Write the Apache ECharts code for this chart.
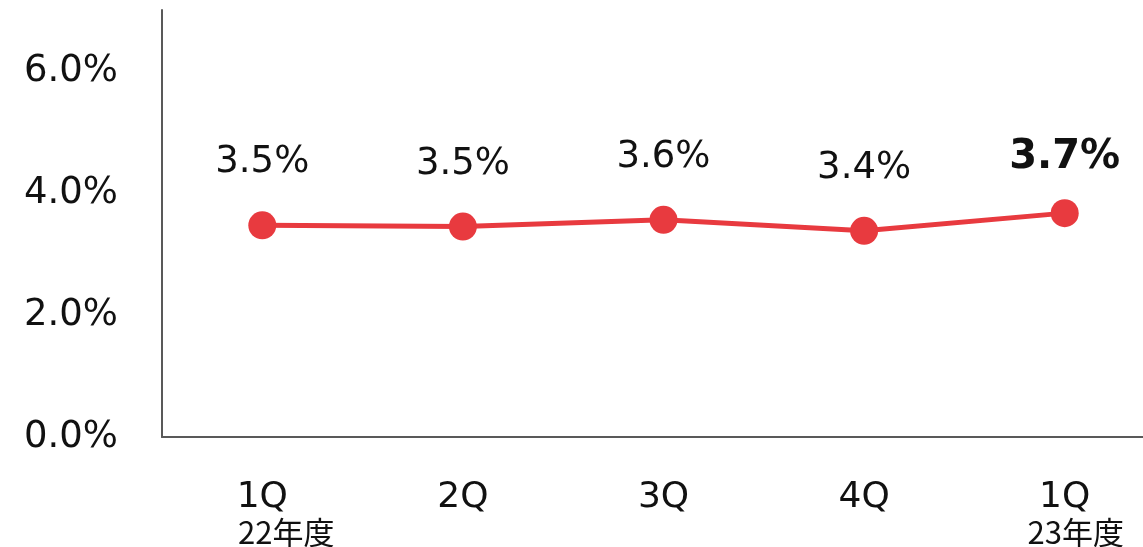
<!DOCTYPE html>
<html>
<head>
<meta charset="utf-8">
<script src="https://cdn.jsdelivr.net/npm/echarts@6/dist/echarts.min.js"></script>
<style>
  html, body { margin: 0; padding: 0; background: #fff; }
  #chart { width: 1143px; height: 547px; }
</style>
</head>
<body>
<div id="chart"></div>
<script>
// quarters and their fiscal-year captions
const quarters = ["1Q", "2Q", "3Q", "4Q", "1Q"];
const years = ["22年度", "", "", "", "23年度"];
// rate in %
const rates = [3.47, 3.45, 3.56, 3.38, 3.67];
const yTicks = [0, 2, 4, 6];

const red = "#e83a3f";
const font = "DejaVu Sans, Verdana, sans-serif";

const myChart = echarts.init(document.getElementById("chart"));

// year caption sits a bit right of the quarter text
const yearShift = [48, 0, 0, 0, 22];

const categories = quarters.map((q, i) => {
  const item = { value: q };
  if (years[i]) {
    item.value = q + "\n" + years[i];
    item.textStyle = {
      rich: {
        b: { padding: [0, 0, 0, yearShift[i]] },
      },
    };
  }
  return item;
});

const seriesData = rates.map((v, i) => {
  const last = i === rates.length - 1;
  return {
    value: v,
    label: last
      ? { fontWeight: "bold", fontSize: 40, distance: 22 }
      : { distance: 30 },
  };
});

const option = {
  animation: false,
  grid: {
    left: 162,
    top: 10,
    bottom: 110,
    right: -22,
    containLabel: false,
    outerBoundsMode: "none",
  },
  xAxis: {
    type: "category",
    data: categories,
    boundaryGap: true,
    axisTick: { show: false },
    axisLine: { lineStyle: { color: "#595959", width: 2 } },
    axisLabel: {
      interval: 0,
      hideOverlap: false,
      margin: 42,
      fontFamily: font,
      fontSize: 36,
      color: "#111",
      formatter: function (val) {
        const parts = val.split("\n");
        return parts.length > 1
          ? "{a|" + parts[0] + "}\n{b|" + parts[1] + "}"
          : "{a|" + parts[0] + "}";
      },
      rich: {
        a: { fontFamily: font, fontSize: 36, color: "#111", lineHeight: 38 },
        b: { fontFamily: "Noto Sans CJK JP, sans-serif", fontSize: 31, color: "#111", lineHeight: 30 },
      },
    },
  },
  yAxis: {
    type: "value",
    min: 0,
    max: 7,
    interval: 2,
    splitLine: { show: false },
    axisTick: { show: false },
    axisLine: { show: true, lineStyle: { color: "#595959", width: 2 } },
    axisLabel: {
      margin: 44,
      fontFamily: font,
      fontSize: 37,
      color: "#111",
      formatter: function (v) {
        return yTicks.indexOf(v) >= 0 ? v.toFixed(1) + "%" : "";
      },
    },
  },
  series: [
    {
      type: "line",
      data: seriesData,
      symbol: "circle",
      symbolSize: 28,
      itemStyle: { color: red },
      lineStyle: { color: red, width: 5 },
      label: {
        show: true,
        position: "top",
        fontFamily: font,
        fontSize: 37,
        color: "#111",
        formatter: function (p) {
          return p.value.toFixed(1) + "%";
        },
      },
    },
  ],
};

myChart.setOption(option);
</script>
</body>
</html>
